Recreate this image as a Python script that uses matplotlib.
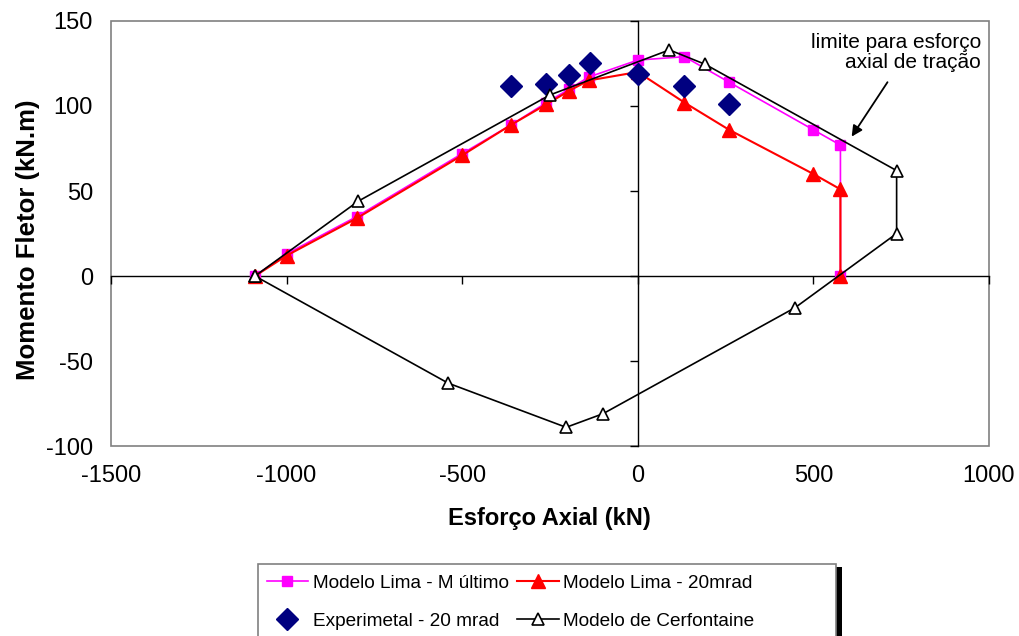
import numpy as np
import matplotlib
matplotlib.use("Agg")
from matplotlib import pyplot as plt
from matplotlib.patches import Rectangle

plt.rcParams['font.family'] = ['Liberation Sans', 'DejaVu Sans']
plt.rcParams['axes.unicode_minus'] = False

# Modelo Lima - M ultimo
lima_m_x = [-1090, -1000, -800, -500, -360, -260, -195, -140, 0, 133, 260, 500, 577, 577]
lima_m_y = [0, 13, 35, 72, 89, 102, 110, 117, 127, 129, 114, 86, 77, 0]

# Modelo Lima - 20 mrad
lima_20_x = [-1090, -1000, -800, -500, -360, -260, -195, -140, 0, 133, 260, 500, 577, 577]
lima_20_y = [0, 12, 34, 71, 89, 101, 109, 115, 120, 102, 86, 60, 51, 0]

# Experimental - 20 mrad
exp_x = [-360, -260, -195, -137, 0, 133, 260]
exp_y = [112, 113, 118, 125, 119, 112, 101]

# Modelo de Cerfontaine (closed envelope)
cerf_x = [-1090, -796, -250, 90, 192, 737, 737, 448, -99, -204, -540, -1090]
cerf_y = [0, 44, 106.5, 133, 124.5, 62, 25, -18.6, -81, -89, -63, 0]

x_ticks = [-1500, -1000, -500, 0, 500, 1000]
y_ticks = [-100, -50, 0, 50, 100, 150]

W, H = 1020, 636
fig = plt.figure(figsize=(W / 100, H / 100), dpi=100)
ax = fig.add_axes([0.1088, 0.2987, 0.8608, 0.6683])

ax.plot(lima_m_x, lima_m_y, color='#FF00FF', lw=1.2, marker='s', ms=7,
        mec='#FF00FF', mfc='#FF00FF', label='Modelo Lima - M último', zorder=3)
ax.plot(lima_20_x, lima_20_y, color='#FF0000', lw=1.5, marker='^', ms=10,
        mec='#FF0000', mfc='#FF0000', label='Modelo Lima - 20mrad', zorder=4)
ax.plot(exp_x, exp_y, ls='none', marker='D', ms=11, color='#000080',
        label='Experimetal - 20 mrad', zorder=5)
ax.plot(cerf_x, cerf_y, color='black', lw=1.2, marker='^', ms=8,
        mfc='white', mec='black', mew=1.2, label='Modelo de Cerfontaine', zorder=6)

ax.set_xlim(-1500, 1000)
ax.set_ylim(-100, 150)

# axis lines through the origin, with tick marks
ax.spines['left'].set_position(('data', 0))
ax.spines['bottom'].set_position(('data', 0))
ax.spines['top'].set_visible(False)
ax.spines['right'].set_visible(False)
for s in ('left', 'bottom'):
    ax.spines[s].set_color('black')
    ax.spines[s].set_linewidth(1.0)
ax.set_xticks(x_ticks)
ax.set_yticks(y_ticks)
ax.tick_params(direction='out', length=6, width=1.0, labelleft=False, labelbottom=False)

# plot area frame
ax.add_patch(Rectangle((0, 0), 1, 1, transform=ax.transAxes, fill=False,
                       ec='#808080', lw=1.2, clip_on=False, zorder=1))

# tick labels at the low edges of the plot area
sx = ax.secondary_xaxis(0.0)
sx.set_xticks(x_ticks)
sx.tick_params(length=0, pad=14, labelsize=17)
sx.spines['bottom'].set_visible(False)

sy = ax.secondary_yaxis(0.0)
sy.set_yticks(y_ticks)
sy.tick_params(length=0, pad=13, labelsize=17)
sy.spines['left'].set_visible(False)

fig.text(0.539, 1 - 519 / H, 'Esforço Axial (kN)', ha='center', va='center',
         fontsize=17, fontweight='bold')
fig.text(28 / W, 1 - 240 / H, 'Momento Fletor (kN.m)', ha='center', va='center',
         rotation=90, fontsize=18.5, fontweight='bold')

ax.annotate('', xy=(609, 82), xytext=(711, 114),
            arrowprops=dict(arrowstyle='-|>', color='black', lw=1.3,
                            mutation_scale=16, shrinkA=0, shrinkB=0))
ax.text(977, 131.3, 'limite para esforço\naxial de tração', ha='right', va='center',
        fontsize=15, linespacing=1.05)

# legend box with a black drop shadow, running off the bottom edge
lx0, ly0, lx1 = 258, 564, 836
fig.patches.append(Rectangle(((lx0 + 6) / W, 0), (lx1 - lx0) / W, 1 - (ly0 + 3) / H,
                             transform=fig.transFigure, fc='black', ec='none', zorder=1))
fig.patches.append(Rectangle((lx0 / W, -0.02), (lx1 - lx0) / W, 1 - ly0 / H + 0.02,
                             transform=fig.transFigure, fc='white', ec='#808080',
                             lw=1.2, zorder=2))

h, l = ax.get_legend_handles_labels()
order = [0, 2, 1, 3]
leg = fig.legend([h[i] for i in order], [l[i] for i in order], ncol=2,
                 loc='upper left', bbox_to_anchor=(lx0 / W, 1 - 566 / H),
                 bbox_transform=fig.transFigure, fontsize=13.7, frameon=False,
                 handlelength=2.2, handletextpad=0.25, columnspacing=0.4,
                 borderpad=0.45, labelspacing=1.1, borderaxespad=0)

fig.savefig('out.png', dpi=100)
